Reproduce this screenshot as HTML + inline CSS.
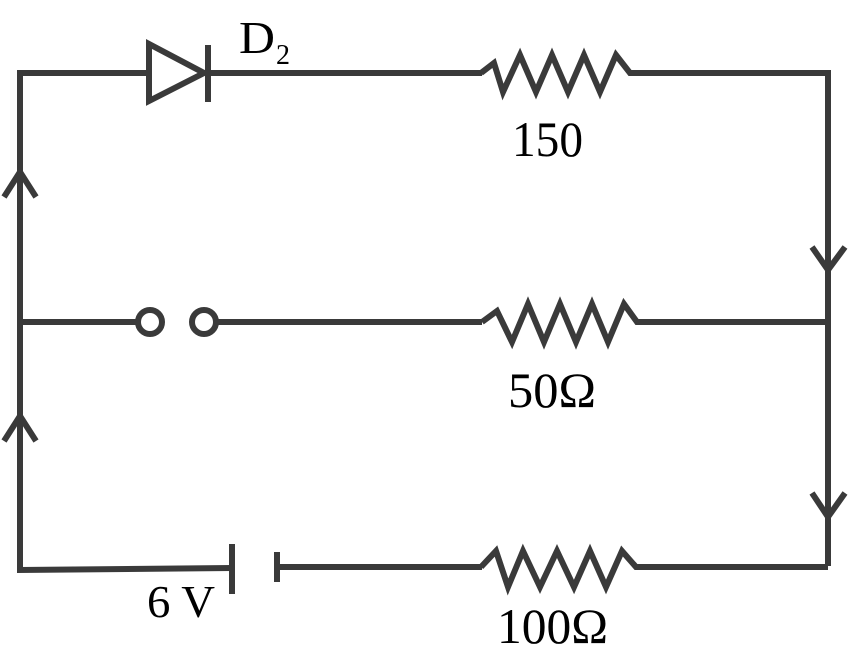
<!DOCTYPE html>
<html><head><style>
html,body{margin:0;padding:0;background:#fff;}
svg{display:block;}
text{font-family:"Liberation Serif",serif;fill:#000;}
</style></head><body>
<svg width="848" height="656" viewBox="0 0 848 656" xmlns="http://www.w3.org/2000/svg">
<g stroke="#3a3a3a" stroke-width="6" fill="none" stroke-linejoin="miter">
<polyline points="20,322 20,73 148,73"/>
<polygon points="149,44 149,101 204,73"/>
<line x1="208" y1="45" x2="208" y2="102"/>
<line x1="208" y1="73" x2="482" y2="73"/>
<polyline points="481,73 494,63 503,92 520,55 536,92 552,55 568,92 584,55 600,92 616,55 630,73 828,73 828,566"/>
<line x1="20" y1="322" x2="137" y2="322"/>
<circle cx="150" cy="322" r="12"/>
<circle cx="204" cy="322" r="12"/>
<line x1="216" y1="322" x2="482" y2="322"/>
<polyline points="482,322 497,311 512,342 528,304 544,342 560,304 576,342 592,304 608,342 624,304 637,322 828,322"/>
<polyline points="20,322 20,570 232,568"/>
<line x1="232" y1="544" x2="232" y2="594"/>
<line x1="277" y1="552" x2="277" y2="582"/>
<line x1="277" y1="567" x2="482" y2="567"/>
<polyline points="481,567 496,551 508,587 523,551 540,587 557,551 574,587 590,551 606,587 622,551 636,567 828,567"/>
<polyline points="4,197 20,172 36,197"/>
<polyline points="4,441 20,416 36,441"/>
<polyline points="812,247 828,270 845,247"/>
<polyline points="812,493 828,517 845,493"/>
</g>
<text x="239" y="53" font-size="46" textLength="36" lengthAdjust="spacingAndGlyphs">D</text>
<text x="276" y="64" font-size="28" textLength="14" lengthAdjust="spacingAndGlyphs">2</text>
<text x="512" y="156" font-size="50" textLength="71" lengthAdjust="spacingAndGlyphs">150</text>
<text x="508" y="407" font-size="50" textLength="88" lengthAdjust="spacingAndGlyphs">50Ω</text>
<text x="497" y="643" font-size="50" textLength="111" lengthAdjust="spacingAndGlyphs">100Ω</text>
<text x="147" y="617" font-size="46" textLength="68" lengthAdjust="spacingAndGlyphs">6 V</text>
</svg>
</body></html>
